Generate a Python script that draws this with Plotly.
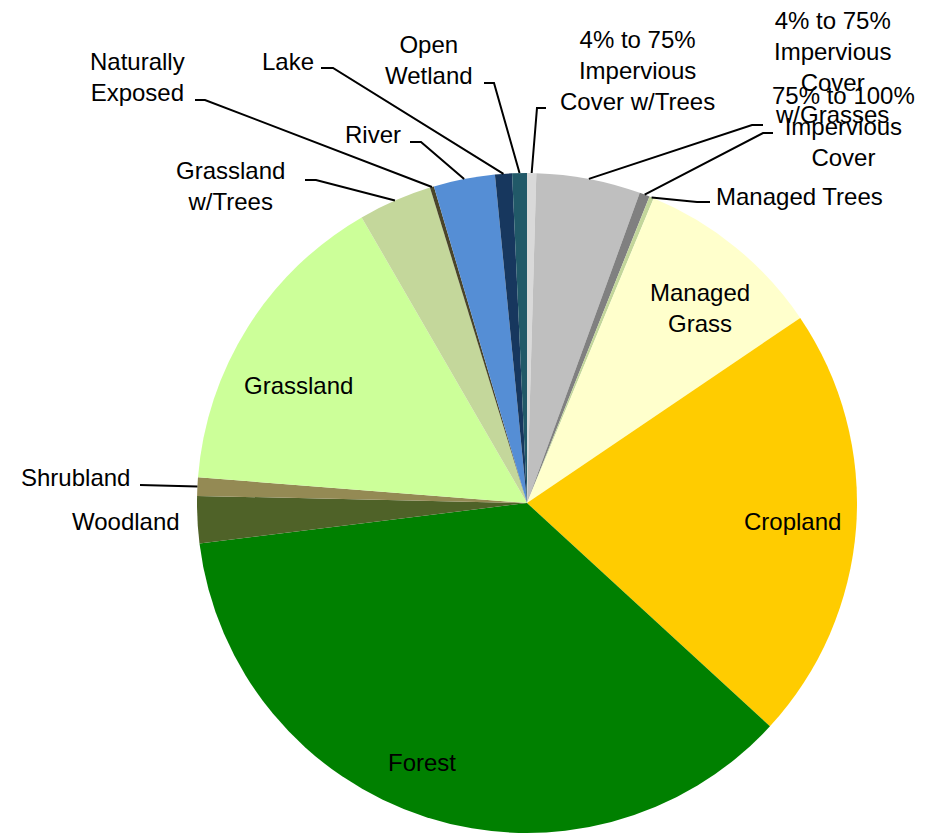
import math
import plotly.graph_objects as go

labels = ["4% to 75% Impervious Cover w/Trees", "4% to 75% Impervious Cover w/Grasses",
          "75% to 100% Impervious Cover", "Managed Trees", "Managed Grass", "Cropland",
          "Forest", "Woodland", "Shrubland", "Grassland", "Grassland w/Trees",
          "Naturally Exposed", "River", "Lake", "Open Wetland"]
values = [0.45, 5.1, 0.5, 0.22, 9.25, 21.3, 36.2, 2.3, 0.9, 15.4, 3.6, 0.2, 3.0, 0.83, 0.72]
colors = ["#D9D9D9", "#BFBFBF", "#808080", "#C3D69B", "#FFFFCC", "#FFCC00",
          "#008000", "#4F6228", "#948A54", "#CCFF99", "#C4D79B",
          "#4A452A", "#558ED5", "#17375E", "#215968"]
display = ["4% to 75%<br>Impervious<br>Cover w/Trees", "4% to 75%<br>Impervious<br>Cover<br>w/Grasses",
           "75% to 100%<br>Impervious<br>Cover", "Managed Trees", "Managed<br>Grass", "Cropland",
           "Forest", "Woodland", "Shrubland", "Grassland", "Grassland<br>w/Trees",
           "Naturally<br>Exposed", "River", "Lake", "Open<br>Wetland"]

W, H = 934, 833
CX, CY, R = 527, 503, 330
# page body margin shifts the figure by 8px; positions below are screen pixels
OFF_X, OFF_Y = 8, 8

def px(x):
    return (x - OFF_X) / W

def py(y):
    return 1 - (y - OFF_Y) / H

total = sum(values)
mid_angles = []
acc = 0
for v in values:
    mid_angles.append((acc + v / 2) / total * 2 * math.pi)
    acc += v

def edge(i):
    a = mid_angles[i]
    return (CX + R * math.sin(a), CY - R * math.cos(a))

# label layout: index -> (x, y, xanchor, leader elbow points)
layout_labels = {
    0: (637, 71, "center", [(546, 108), (537, 108)]),
    1: (832, 68, "center", [(763, 125), (752, 125)]),
    2: (843, 126, "center", [(773, 133), (763, 133)]),
    3: (714, 197, "left", [(710, 202), (697, 202)]),
    4: (700, 308, "center", None),
    5: (792, 521, "center", None),
    6: (422, 762, "center", None),
    7: (126, 521, "center", None),
    8: (75, 477, "center", [(140, 485)]),
    9: (298, 385, "center", None),
    10: (230, 186, "center", [(305, 180), (316, 180)]),
    11: (137, 77, "center", [(195, 100), (205, 100)]),
    12: (373, 135, "center", [(410, 142), (421, 142)]),
    13: (288, 61, "center", [(321, 68), (333, 68)]),
    14: (429, 60, "center", [(484, 83), (494, 83)]),
}

fig = go.Figure(go.Pie(
    labels=labels, values=values, sort=False, direction="clockwise", rotation=0,
    marker=dict(colors=colors, line=dict(width=0)),
    textinfo="none", hoverinfo="label+percent", showlegend=False,
    domain=dict(x=[px(CX - R), px(CX + R)], y=[py(CY + R), py(CY - R)]),
))

font = dict(family="Liberation Sans, Arial, sans-serif", size=24, color="black")
annotations = []
shapes = []
for i, (x, y, xa, leader) in layout_labels.items():
    annotations.append(dict(x=px(x), y=py(y), xref="paper", yref="paper", text=display[i],
                            showarrow=False, xanchor=xa, yanchor="middle", font=font,
                            align="center"))
    if leader:
        pts = leader + [edge(i)]
        path = "M " + " L ".join(f"{px(a):.5f},{py(b):.5f}" for a, b in pts)
        shapes.append(dict(type="path", path=path, xref="paper", yref="paper",
                           line=dict(color="black", width=2)))

fig.update_layout(width=W, height=H, margin=dict(l=0, r=0, t=0, b=0),
                  paper_bgcolor="white", plot_bgcolor="white",
                  annotations=annotations, shapes=shapes)
fig.write_html("out.html")
